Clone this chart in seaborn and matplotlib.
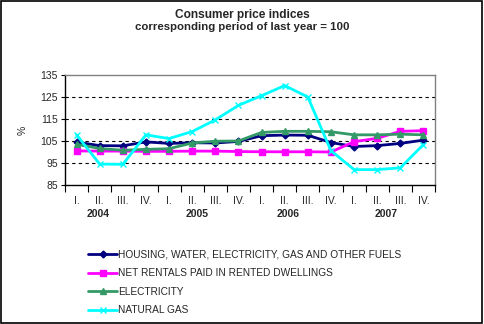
import matplotlib
matplotlib.use("Agg")
import matplotlib.pyplot as plt
import seaborn as sns
import pandas as pd
from matplotlib.ticker import FixedLocator

quarters = ["I.", "II.", "III.", "IV."] * 4
years = ["2004", "2005", "2006", "2007"]
year_pos = [0.95, 5.2, 9.15, 13.4]

housing = [104.5, 102.9, 102.8, 104.6, 103.9, 104.2, 104.1, 104.8,
           107.4, 107.7, 107.6, 104.3, 102.5, 102.9, 103.9, 105.4]
rentals = [100.5, 100.4, 100.4, 100.3, 100.3, 100.4, 100.4, 100.2,
           100.1, 100.1, 100.1, 100.0, 104.7, 106.2, 109.4, 109.7]
electricity = [103.5, 101.6, 100.8, 101.2, 101.5, 104.1, 104.9, 105.0,
               108.9, 109.4, 109.4, 109.2, 107.8, 107.8, 108.1, 107.8]
natural_gas = [107.8, 94.5, 94.4, 107.8, 106.1, 109.3, 114.6, 121.2,
               125.6, 130.2, 125.0, 100.6, 92.0, 92.0, 92.8, 103.4]

names = ["HOUSING, WATER, ELECTRICITY, GAS AND OTHER FUELS",
         "NET RENTALS PAID IN RENTED DWELLINGS",
         "ELECTRICITY",
         "NATURAL GAS"]
colors = ["#000080", "#ff00ff", "#339966", "#00ffff"]
markers = ["D", "s", "^", "x"]
msizes = [3.5, 4.5, 5, 4]

sns.set_style("white")
plt.rcParams["font.family"] = ["Liberation Sans", "DejaVu Sans"]

fig = plt.figure(figsize=(4.84, 3.24), dpi=100)
ax = fig.add_axes([65/484, 1-185/324, 370/484, 110/324])

series = [housing, rentals, electricity, natural_gas]
handles = []
for n, vals, c, m, ms in zip(names, series, colors, markers, msizes):
    df = pd.DataFrame({"q": range(len(vals)), "value": vals})
    sns.lineplot(data=df, x="q", y="value", color=c, marker=m,
                 markersize=ms, markeredgecolor=c, markerfacecolor=c,
                 markeredgewidth=1.0, linewidth=2, ax=ax)
    handles.append(ax.lines[-1])

ax.set_xlim(-0.5, 15.5)
ax.set_ylim(85, 135)
ax.set_yticks([85, 95, 105, 115, 125, 135])
for y in [95, 105, 115, 125]:
    ax.axhline(y, color="black", linestyle=(0, (3, 3)), linewidth=0.8, zorder=0)

ax.xaxis.set_major_locator(FixedLocator(range(16)))
ax.set_xticklabels(quarters, fontsize=7.5)
ax.xaxis.set_minor_locator(FixedLocator([i - 0.5 for i in range(17)]))
ax.tick_params(axis="x", which="major", length=0, pad=8)
ax.tick_params(axis="x", which="minor", length=5, width=0.8, color="black", direction="out")
ax.tick_params(axis="y", length=3, width=0.8, color="black", labelsize=7.5, pad=2, direction="out")
ax.xaxis.set_ticks_position("bottom")
ax.yaxis.set_ticks_position("left")

ax.set_xlabel("")
ax.set_ylabel("%", fontsize=7.5, labelpad=9)

for sp in ["left", "bottom"]:
    ax.spines[sp].set_color("black")
    ax.spines[sp].set_linewidth(1)
for sp in ["top", "right"]:
    ax.spines[sp].set_color("#808080")
    ax.spines[sp].set_linewidth(1)

for yr, xp in zip(years, year_pos):
    ax.text(xp, -0.265, yr, transform=ax.get_xaxis_transform(), ha="center",
            va="center", fontsize=7.5, fontweight="bold")

fig.text(0.5, 1-15/324, "Consumer price indices", ha="center", va="center",
         fontsize=8.6, fontweight="bold")
fig.text(0.5, 1-26.5/324, "corresponding period of last year = 100", ha="center",
         va="center", fontsize=8.2, fontweight="bold")

fig.legend(handles, names, loc="upper left", bbox_to_anchor=(88/484, 1-249.5/324),
           frameon=False, fontsize=7.3, handlelength=2.9, handletextpad=0.1,
           labelspacing=0.85, borderaxespad=0, borderpad=0)

border = plt.Rectangle((0.002, 0.003), 0.994, 0.994, transform=fig.transFigure,
                       fill=False, edgecolor="black", linewidth=1.2)
fig.patches.append(border)

fig.savefig("out.png", dpi=100)
